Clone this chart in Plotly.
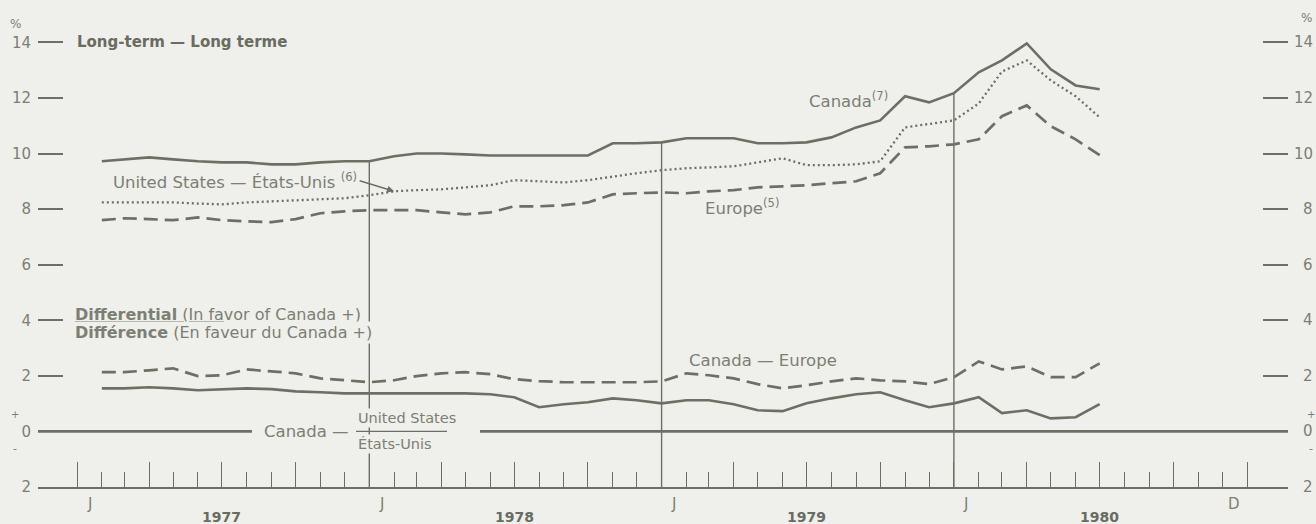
import pandas as pd
import plotly.graph_objects as go

# ---------------- data (month-end observations, Jan 1977 - Jun 1980) ----------------
months = pd.date_range("1977-02-01", periods=42, freq="MS")  # end of month = start of next

canada = [9.72, 9.79, 9.86, 9.79, 9.72, 9.68, 9.68, 9.61, 9.61, 9.68, 9.72, 9.72,
          9.90, 10.00, 10.00, 9.97, 9.93, 9.93, 9.93, 9.93, 9.93, 10.37, 10.37, 10.40,
          10.55, 10.55, 10.55, 10.37, 10.37, 10.40, 10.58, 10.94, 11.19, 12.06, 11.84, 12.17,
          12.92, 13.35, 13.96, 13.03, 12.45, 12.31]

united_states = [8.24, 8.24, 8.24, 8.24, 8.20, 8.17, 8.24, 8.28, 8.32, 8.35, 8.39, 8.50,
                 8.64, 8.68, 8.71, 8.78, 8.86, 9.04, 9.00, 8.96, 9.04, 9.18, 9.29, 9.40,
                 9.47, 9.50, 9.54, 9.68, 9.83, 9.58, 9.58, 9.61, 9.72, 10.94, 11.05, 11.19,
                 11.80, 12.95, 13.35, 12.63, 12.06, 11.30]

europe = [7.60, 7.67, 7.64, 7.60, 7.70, 7.60, 7.56, 7.53, 7.64, 7.85, 7.92, 7.96,
          7.96, 7.96, 7.88, 7.81, 7.88, 8.10, 8.10, 8.14, 8.24, 8.53, 8.57, 8.60,
          8.57, 8.64, 8.68, 8.78, 8.82, 8.86, 8.93, 9.00, 9.29, 10.22, 10.26, 10.33,
          10.51, 11.34, 11.73, 10.98, 10.51, 9.94]

diff_canada_europe = [2.13, 2.13, 2.20, 2.27, 1.99, 2.02, 2.23, 2.16, 2.09, 1.91, 1.84, 1.77,
                      1.84, 1.99, 2.09, 2.13, 2.06, 1.88, 1.81, 1.77, 1.77, 1.77, 1.77, 1.80,
                      2.09, 2.02, 1.91, 1.70, 1.55, 1.66, 1.80, 1.91, 1.84, 1.80, 1.70, 1.95,
                      2.52, 2.23, 2.34, 1.95, 1.95, 2.45]

diff_canada_us = [1.55, 1.55, 1.59, 1.55, 1.48, 1.52, 1.55, 1.52, 1.44, 1.41, 1.37, 1.37,
                  1.37, 1.37, 1.37, 1.37, 1.34, 1.23, 0.87, 0.98, 1.05, 1.19, 1.12, 1.01,
                  1.12, 1.12, 0.98, 0.76, 0.73, 1.01, 1.19, 1.34, 1.41, 1.12, 0.87, 1.01,
                  1.23, 0.66, 0.76, 0.47, 0.51, 0.98]

ytick_vals = [-2, 0, 2, 4, 6, 8, 10, 12, 14]
ytick_text = ["2", "0", "2", "4", "6", "8", "10", "12", "14"]
years = ["1977", "1978", "1979", "1980"]
month_labels = ["J", "J", "J", "J", "D"]
month_label_dates = ["1977-01-16", "1978-01-16", "1979-01-16", "1980-01-16", "1980-12-16"]
year_starts = ["1978-01-01", "1979-01-01", "1980-01-01"]

# ---------------- style ----------------
BG = "#efefeb"
LINE = "#6c7064"
TXT = "#7b7f74"
TXT_B = "#686c61"
FONT = "DejaVu Sans"

W, H = 1316, 524
L, R, T, B = 38, 28, 34, 37
PW = W - L - R

def px(xp):
    return (xp - L) / PW

# x range from pixel geometry
t0, t1 = pd.Timestamp("1977-01-01"), pd.Timestamp("1981-01-01")
p0, p1 = 77, 1247
per_px = (t1 - t0) / (p1 - p0)
x_range = [t0 - per_px * (p0 - L), t1 + per_px * (L + PW - p1)]

fig = go.Figure()

fig.add_trace(go.Scatter(x=months, y=canada, mode="lines",
                         line=dict(color=LINE, width=2.6), hoverinfo="skip"))
fig.add_trace(go.Scatter(x=months, y=united_states, mode="lines",
                         line=dict(color=LINE, width=2.3, dash="2px,3px"), hoverinfo="skip"))
fig.add_trace(go.Scatter(x=months, y=europe, mode="lines",
                         line=dict(color=LINE, width=2.7, dash="14px,7px"), hoverinfo="skip"))
fig.add_trace(go.Scatter(x=months, y=diff_canada_europe, mode="lines",
                         line=dict(color=LINE, width=2.7, dash="14px,7px"), hoverinfo="skip"))
fig.add_trace(go.Scatter(x=months, y=diff_canada_us, mode="lines",
                         line=dict(color=LINE, width=2.6), hoverinfo="skip"))

shapes = []
# vertical year lines from the base up to the Canada curve
for d in year_starts:
    i = list(months).index(pd.Timestamp(d))
    shapes.append(dict(type="line", xref="x", yref="y", x0=d, x1=d, y0=-2, y1=canada[i],
                       line=dict(color=LINE, width=1.4), layer="below"))
# zero line with gap for label
shapes.append(dict(type="line", xref="paper", yref="y", x0=0, x1=px(252), y0=0, y1=0,
                   line=dict(color=LINE, width=2.7)))
shapes.append(dict(type="line", xref="paper", yref="y", x0=px(480), x1=1, y0=0, y1=0,
                   line=dict(color=LINE, width=2.7)))
# fraction bar (United States / États-Unis)
shapes.append(dict(type="line", xref="paper", yref="y", x0=px(356), x1=px(447), y0=0, y1=0,
                   line=dict(color=LINE, width=1.2)))

ann = []
def text(x, y, s, size=16, color=TXT, xanchor="left", yanchor="middle", xref="paper",
         yref="y", bg=None, yshift=0, xshift=0, pad=1):
    d = dict(x=x, y=y, text=s, xref=xref, yref=yref, showarrow=False, xanchor=xanchor,
             yanchor=yanchor, yshift=yshift, xshift=xshift,
             font=dict(family=FONT, size=size, color=color), borderpad=pad)
    if bg:
        d["bgcolor"] = bg
    ann.append(d)

text(px(75), 14, "<b>Long-term — Long terme</b>", size=15, color=TXT_B)
text(px(807), 11.91, "Canada<sup>(7)</sup>", size=16.5)
text(px(111), 9.0, "United States — États-Unis <sup>(6)</sup>", size=16.5)
text(px(703), 8.06, "Europe<sup>(5)</sup>", size=16.5)
text(px(73), 4, "<u><b>Differential</b> (In fa</u>vor of Canada +)", size=16, bg=BG,
     yshift=6, pad=1)
text(px(73), 4, "<b>Différence</b> (En faveur du Canada +)", size=16, bg=BG,
     yshift=-12, pad=1)
text(px(687), 2.56, "Canada — Europe", size=16.5)
text(px(260), 0, "Canada —", size=16.5, bg=BG, pad=3)
text(px(356), 0, "United States", size=14.5, bg=BG, yshift=13, pad=1)
text(px(356), 0, "États-Unis", size=14.5, bg=BG, yshift=-13, pad=1)

# arrow for (6)
ann.append(dict(x=months[12], y=united_states[12], xref="x", yref="y", ax=-36, ay=-11,
                showarrow=True, arrowhead=2, arrowsize=1, arrowwidth=1.4, arrowcolor=LINE,
                text=""))

# right-hand axis labels
for v, s in zip(ytick_vals, ytick_text):
    text(1, v, s, size=15, xanchor="right", xshift=R - 1)
# percent signs and +/- markers
text(px(15), 1.022, "%", size=12, xanchor="center", yref="paper")
text(px(1306), 1.036, "%", size=12, xanchor="center", yref="paper")
for xp in (15, 1311):
    text(px(xp), 0, "+", size=10, xanchor="center", yshift=17)
    text(px(xp), 0, "-", size=11, xanchor="center", yshift=-17)

# month initials and years
for d, s in zip(month_label_dates, month_labels):
    text(d, -2, s, size=15, xanchor="center", xref="x", yshift=-17)
for y in years:
    text(f"{y}-07-01", -2, f"<b>{y}</b>", size=14, xanchor="center", xref="x", yshift=-30,
         color=TXT_B)

fig.update_layout(
    width=W, height=H,
    margin=dict(l=L, r=R, t=T, b=B),
    paper_bgcolor=BG, plot_bgcolor=BG,
    showlegend=False,
    shapes=shapes, annotations=ann,
    font=dict(family=FONT, color=TXT),
    xaxis=dict(type="date", range=x_range, showgrid=False, zeroline=False,
               showline=True, linecolor=LINE, linewidth=1.6,
               tickvals=pd.date_range("1977-01-01", "1981-01-01", freq="QS"),
               ticks="inside", ticklen=25, tickwidth=1.4, tickcolor=LINE,
               showticklabels=False,
               minor=dict(tickvals=pd.date_range("1977-01-01", "1981-01-01", freq="MS"),
                          ticks="inside", ticklen=15, tickwidth=1.4, tickcolor=LINE)),
    yaxis=dict(range=[-2, 14.3], showgrid=False, zeroline=False, showline=False,
               tickvals=ytick_vals, ticktext=ytick_text, ticks="inside", ticklen=25,
               tickwidth=1.5, tickcolor=LINE, mirror="ticks",
               tickfont=dict(family=FONT, size=15, color=TXT), ticklabelstandoff=6),
)

fig.write_html(
    "out.html",
    config={"displayModeBar": False},
    post_script=("document.body.style.margin='0';"
                 "document.body.style.overflow='hidden';"
                 f"document.body.style.background='{BG}';"),
)
